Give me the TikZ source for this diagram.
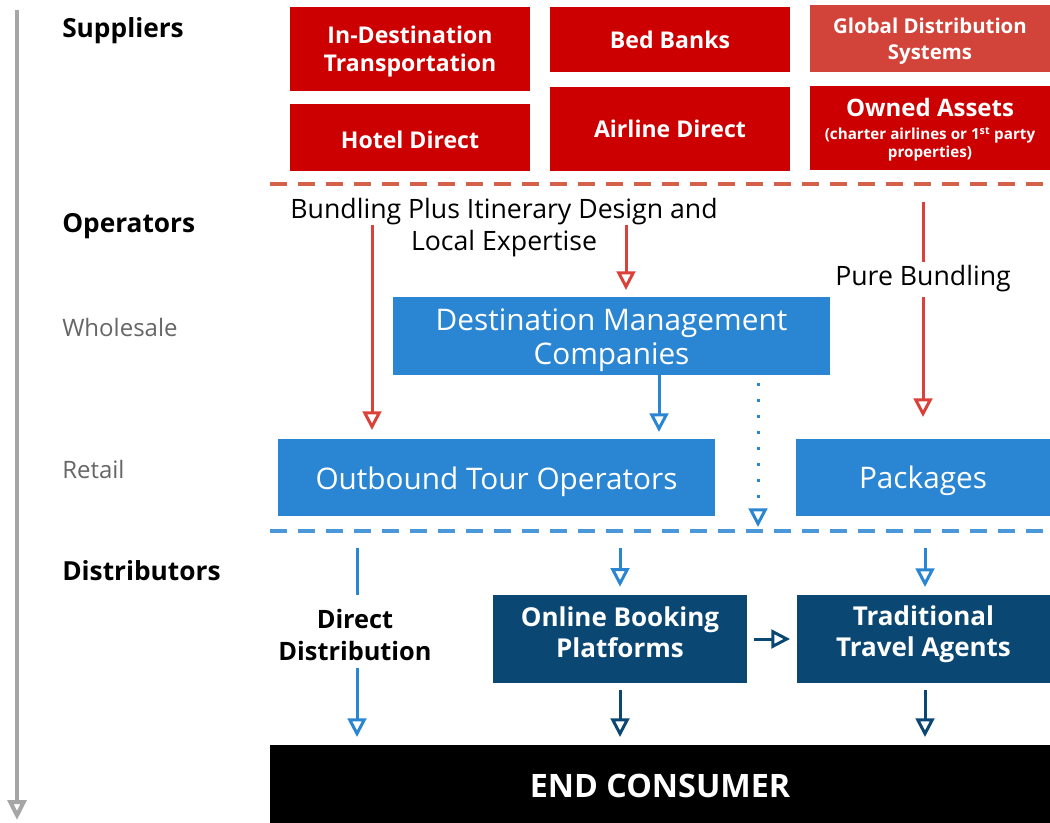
\documentclass[tikz,border=0pt]{standalone}
\usepackage{fontspec}
\setmainfont{Open Sans}
\usetikzlibrary{arrows.meta}
\definecolor{boxred}{HTML}{CC0000}
\definecolor{gdsred}{HTML}{D2433A}
\definecolor{arrred}{HTML}{D9413A}
\definecolor{dashred}{HTML}{D6614A}
\definecolor{boxblue}{HTML}{2A86D2}
\definecolor{dashblue}{HTML}{4A97D9}
\definecolor{darkblue}{HTML}{0B4773}
\definecolor{grayarr}{HTML}{A6A6A6}
\definecolor{labgray}{HTML}{666666}
\newcommand{\smallsub}{\fontsize{11.4}{14}\selectfont}
\tikzset{
  box/.style={rectangle, inner sep=0pt},
  txt/.style={inner sep=0pt, align=center, text=white},
  redtxt/.style={txt, font=\bfseries\fontsize{17.3}{21}\selectfont},
  bluetxt/.style={txt, font=\fontsize{22.3}{25.5}\selectfont},
  darktxt/.style={txt, font=\bfseries\fontsize{19.5}{23.25}\selectfont},
  rowlab/.style={anchor=west, inner sep=0pt, font=\bfseries\fontsize{19.7}{22}\selectfont},
  sublab/.style={anchor=west, inner sep=0pt, text=labgray, font=\fontsize{18}{20}\selectfont},
  flowtxt/.style={inner sep=0pt, align=center, font=\fontsize{20}{24}\selectfont},
  tipo/.style={-{Triangle[open, length=14pt, width=14pt]}},
  redarr/.style={draw=arrred, line width=2.25pt},
  bluearr/.style={draw=boxblue, line width=2.25pt},
  darkarr/.style={draw=darkblue, line width=2.25pt},
}
\begin{document}
\begin{tikzpicture}[x=0.75pt, y=-0.75pt]
\useasboundingbox (0,0) rectangle (1050,823);

% left axis
\coordinate (gtop) at (17,10);
\coordinate (gbot) at (17,820);
\draw[grayarr, line width=3pt, -{Triangle[open, length=15pt, width=14pt]}] (gtop) -- (gbot);

% row labels
\node[rowlab] (lsup) at (62,30.5) {Suppliers};
\node[rowlab] (lop) at (62,226.5) {Operators};
\node[sublab] (lwh) at (62,328) {Wholesale};
\node[sublab] (lre) at (62,470) {Retail};
\node[rowlab] (ldi) at (62,570.5) {Distributors};

% suppliers
\node[box, fill=boxred, minimum width=180pt, minimum height=63pt] (idt) at (410,49) {};
\node[redtxt] (idt-t) at ([yshift=-2.25pt]idt.center) {In-Destination\\Transportation};
\node[box, fill=boxred, minimum width=180pt, minimum height=50.25pt] (hd) at (410,137.5) {};
\node[redtxt] (hd-t) at ([yshift=-1.5pt]hd.center) {Hotel Direct};
\node[box, fill=boxred, minimum width=180pt, minimum height=48.75pt] (bb) at (670,39.5) {};
\node[redtxt] (bb-t) at (bb.center) {Bed Banks};
\node[box, fill=boxred, minimum width=180pt, minimum height=63pt] (ad) at (670,129) {};
\node[redtxt] (ad-t) at (ad.center) {Airline Direct};
\node[box, fill=gdsred, minimum width=180pt, minimum height=50.25pt] (gds) at (930,38.5) {};
\node[redtxt, font=\bfseries\fontsize{15.3}{19.5}\selectfont] (gds-t) at ([yshift=-1.9pt]gds.center) {Global Distribution\\Systems};
\node[box, fill=boxred, minimum width=180pt, minimum height=63pt] (oa) at (930,128) {};
\node[redtxt, font=\bfseries\fontsize{18}{21}\selectfont] (oa-t) at ([yshift=-1.5pt]oa.center) {Owned Assets\\[-4pt]\smallsub (charter airlines or 1\textsuperscript{st} party\\[-7.5pt]\smallsub properties)};

% dashed separators
\coordinate (rdl) at (270,184);
\coordinate (rdr) at (1050,184);
\draw[dashred, line width=3pt, dash pattern=on 12.75pt off 8.25pt] (rdl) -- (rdr);
\coordinate (bdl) at (270,531);
\coordinate (bdr) at (1050,531);
\draw[dashblue, line width=3pt, dash pattern=on 12.75pt off 8.25pt] (bdl) -- (bdr);

% operators
\node[flowtxt] (bund) at (504,227.5) {Bundling Plus Itinerary Design and\\Local Expertise};
\node[flowtxt] (pure) at (923,279) {Pure Bundling};
\node[box, fill=boxblue, minimum width=327.75pt, minimum height=58.5pt] (dmc) at (611.5,336) {};
\node[bluetxt] (dmc-t) at ([yshift=-3pt]dmc.center) {Destination Management\\Companies};
\node[box, fill=boxblue, minimum width=327.75pt, minimum height=57.75pt] (oto) at (496.5,477.5) {};
\node[bluetxt] (oto-t) at ([yshift=-3pt]oto.center) {Outbound Tour Operators};
\node[box, fill=boxblue, minimum width=190.5pt, minimum height=57.75pt] (pkg) at (923,477.5) {};
\node[bluetxt] (pkg-t) at ([yshift=-2.25pt]pkg.center) {Packages};

% red arrows
\coordinate (r1s) at (372,225);
\coordinate (r1e) at (372,430);
\draw[redarr, tipo] (r1s) -- (r1e);
\coordinate (r2s) at (626,225);
\coordinate (r2e) at (626,290);
\draw[redarr, tipo] (r2s) -- (r2e);
\coordinate (r3s) at (923,202);
\coordinate (r3m) at (923,262);
\draw[redarr] (r3s) -- (r3m);
\coordinate (r4s) at (923,297);
\coordinate (r4e) at (923,417);
\draw[redarr, tipo] (r4s) -- (r4e);

% blue arrows
\coordinate (b1e) at (659,432);
\draw[bluearr, tipo] (dmc.south -| b1e) -- (b1e);
\coordinate (dots) at (758,383);
\coordinate (dote) at (758,527);
\draw[boxblue, line width=2.25pt, dash pattern=on 2.25pt off 9.75pt] (dots) -- ([yshift=13pt]dote);
\draw[bluearr, tipo] ([yshift=12pt]dote) -- (dote);

% distributors
\node[flowtxt, font=\bfseries\fontsize{19}{24}\selectfont] (dd) at (355,635) {Direct\\Distribution};
\node[box, fill=darkblue, minimum width=190.5pt, minimum height=66pt] (obp) at (620,639) {};
\node[darktxt] (obp-t) at ([yshift=5pt]obp.center) {Online Booking\\Platforms};
\node[box, fill=darkblue, minimum width=189.75pt, minimum height=66pt] (tta) at (923.5,639) {};
\node[darktxt] (tta-t) at ([yshift=3.4pt]tta.center) {Traditional\\Travel Agents};
\node[box, fill=black, minimum width=585pt, minimum height=58.5pt] (ec) at (660,784) {};
\node[txt, font=\bfseries\fontsize{24.2}{28}\selectfont] (ec-t) at ([yshift=-1.5pt]ec.center) {END CONSUMER};

\coordinate (d1s) at (357,548);
\coordinate (d1e) at (357,595);
\draw[bluearr] (d1s) -- (d1e);
\coordinate (d2e) at (357,737);
\draw[bluearr, tipo] ([yshift=-5pt]dd.south -| d2e) -- (d2e);
\coordinate (d3s) at (620,548);
\draw[bluearr, tipo] (d3s) -- ([yshift=6pt]obp.north);
\coordinate (d4s) at (925,548);
\coordinate (d4e) at (925,587);
\draw[bluearr, tipo] (d4s) -- (d4e);

\draw[darkarr, tipo] ([xshift=5pt]obp.east) -- ([xshift=-5pt]tta.west |- obp.east);
\coordinate (k1e) at (620,737);
\draw[darkarr, tipo] ([yshift=-5pt]obp.south) -- (k1e);
\coordinate (k2e) at (925,737);
\draw[darkarr, tipo] ([yshift=-5pt]tta.south -| k2e) -- (k2e);
\end{tikzpicture}
\end{document}
